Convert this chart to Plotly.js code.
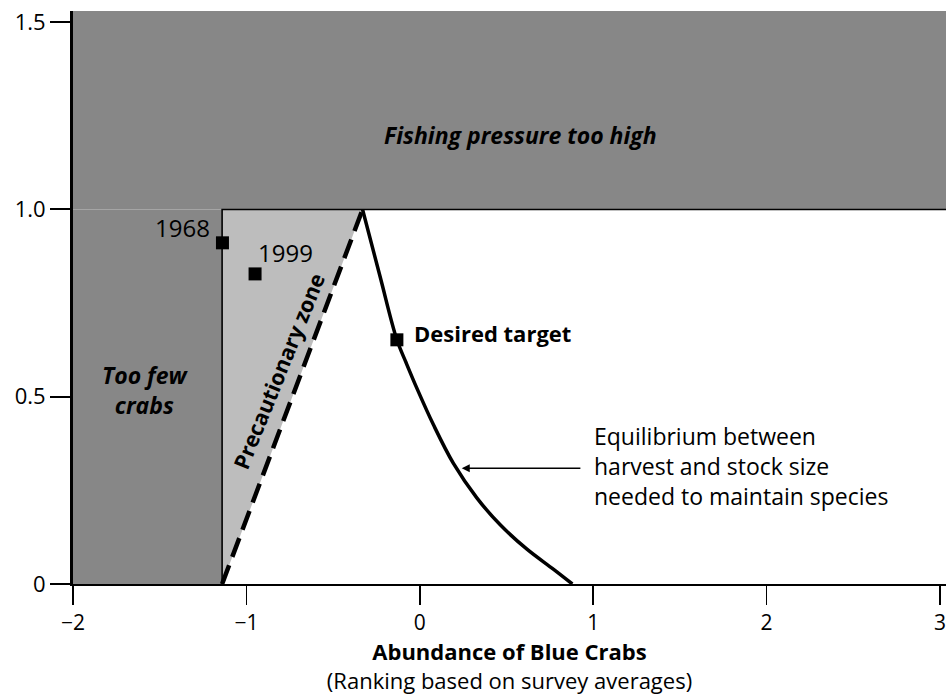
<!DOCTYPE html>
<html>
<head>
<meta charset="utf-8">
<script src="https://cdn.plot.ly/plotly-3.0.1.min.js"></script>
<style>html,body{margin:0;padding:0;background:#fff;}#chart{width:946px;height:695px;}</style>
</head>
<body>
<div id="chart"></div>
<script>
// ---- data ----
const xMin = -2, xMax = 3.035, yMax = 1.53;
const lowStockLimit = -1.14;      // abundance below which there are too few crabs
const pressureLimit = 1.0;        // fishing pressure above which it is too high
const precautionX = [-1.14, -0.33];   // dashed precautionary boundary
const precautionY = [0, 1.0];
const equilibriumX = [-0.33, -0.229, -0.132, -0.078, -0.017, 0.079, 0.194, 0.329, 0.464, 0.618, 0.772, 0.88];
const equilibriumY = [1.0, 0.821, 0.652, 0.590, 0.523, 0.425, 0.322, 0.230, 0.158, 0.093, 0.039, 0.0];
const pointNames = ['1968', '1999', 'Desired target'];
const pointX = [-1.138, -0.950, -0.132];
const pointY = [0.911, 0.828, 0.652];
const xTickVals = [-2, -1, 0, 1, 2, 3];
const xTickText = ['\u22122', '\u22121', '0', '1', '2', '3'];
const yTickVals = [0, 0.5, 1, 1.5];
const yTickText = ['0', '0.5', '1.0', '1.5'];

const FONT = 'Open Sans, Noto Sans, DejaVu Sans, sans-serif';
const DARK = '#878787', LIGHT = '#bdbdbd';

const traces = [
  // Fishing pressure too high region
  {x: [xMin, xMax, xMax, xMin], y: [pressureLimit, pressureLimit, yMax, yMax],
   fill: 'toself', fillcolor: DARK, mode: 'none', type: 'scatter', hoverinfo: 'skip'},
  // Too few crabs region
  {x: [xMin, lowStockLimit, lowStockLimit, xMin], y: [0, 0, pressureLimit, pressureLimit],
   fill: 'toself', fillcolor: DARK, mode: 'none', type: 'scatter', hoverinfo: 'skip'},
  // Precautionary zone
  {x: [precautionX[0], precautionX[1], precautionX[0]], y: [precautionY[0], precautionY[1], pressureLimit],
   fill: 'toself', fillcolor: LIGHT, mode: 'none', type: 'scatter', hoverinfo: 'skip'},
  // boundaries
  {x: [lowStockLimit, lowStockLimit, xMax], y: [0, pressureLimit, pressureLimit],
   mode: 'lines', line: {color: '#000', width: 1.6}, type: 'scatter', hoverinfo: 'skip'},
  {x: precautionX, y: precautionY, mode: 'lines',
   line: {color: '#000', width: 4.5, dash: '20px,9px'}, type: 'scatter', hoverinfo: 'skip'},
  {x: equilibriumX, y: equilibriumY, mode: 'lines',
   line: {color: '#000', width: 3.5, shape: 'spline', smoothing: 1.0},
   type: 'scatter', hoverinfo: 'skip'},
  {x: pointX, y: pointY, mode: 'markers', marker: {symbol: 'square', size: 13, color: '#000'},
   type: 'scatter', text: pointNames, hoverinfo: 'text'}
];

const annotations = [
  {x: 0.58, y: 1.20, text: 'Fishing pressure too high', showarrow: false,
   font: {family: FONT, size: 23, color: '#000', style: 'italic', weight: 'bold'}},
  {x: -1.585, y: 0.517, text: 'Too few<br>crabs', showarrow: false,
   font: {family: FONT, size: 23, color: '#000', style: 'italic', weight: 'bold'}},
  {x: -0.813, y: 0.570, text: '<b>Precautionary zone</b>', showarrow: false, textangle: -68,
   font: {family: FONT, size: 21.5, color: '#000'}},
  {x: -1.198, y: 0.953, text: pointNames[0], showarrow: false, xanchor: 'right',
   font: {family: FONT, size: 24, color: '#000'}},
  {x: -0.777, y: 0.884, text: pointNames[1], showarrow: false,
   font: {family: FONT, size: 24, color: '#000'}},
  {x: -0.044, y: 0.670, text: '<b>' + pointNames[2] + '</b>', showarrow: false, xanchor: 'left',
   font: {family: FONT, size: 22, color: '#000'}},
  {x: 0.995, y: 0.315, text: 'Equilibrium between<br>harvest and stock size<br>needed to maintain species',
   showarrow: false, xanchor: 'left', align: 'left',
   font: {family: FONT, size: 23, color: '#000'}},
  {x: 0.242, y: 0.309, ax: 0.935, ay: 0.309, axref: 'x', ayref: 'y', text: '', showarrow: true,
   arrowhead: 2, arrowsize: 1, arrowwidth: 1.6, arrowcolor: '#000', standoff: 0}
];

const layout = {
  width: 946, height: 695,
  margin: {l: 73, r: 0, t: 11, b: 111},
  paper_bgcolor: '#fff', plot_bgcolor: '#fff',
  showlegend: false,
  font: {family: FONT, color: '#000'},
  xaxis: {
    range: [xMin, xMax], showgrid: false, zeroline: false,
    showline: true, linecolor: '#000', linewidth: 2,
    ticks: 'outside', ticklen: 19, tickwidth: 1.5, tickcolor: '#000',
    tickvals: xTickVals, ticktext: xTickText, ticklabeloverflow: 'allow',
    tickfont: {family: FONT, size: 21, color: '#000'},
    title: {text: '<b>Abundance of Blue Crabs</b><br>(Ranking based on survey averages)',
            font: {family: FONT, size: 22, color: '#000'}, standoff: 14}
  },
  yaxis: {
    range: [0, yMax], showgrid: false, zeroline: false,
    showline: true, linecolor: '#000', linewidth: 3,
    ticks: 'outside', ticklen: 20, tickwidth: 2, tickcolor: '#000',
    tickvals: yTickVals, ticktext: yTickText,
    tickfont: {family: FONT, size: 22, color: '#000'}
  },
  annotations: annotations
};

Plotly.newPlot('chart', traces, layout, {displayModeBar: false, staticPlot: true});
</script>
</body>
</html>
